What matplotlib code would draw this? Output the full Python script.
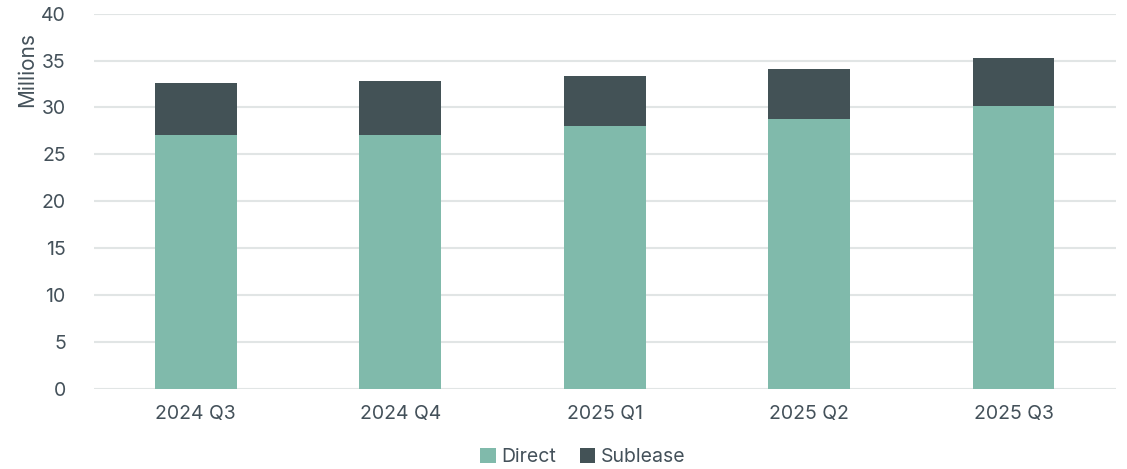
import numpy as np
import matplotlib.pyplot as plt

quarters = ["2024 Q3", "2024 Q4", "2025 Q1", "2025 Q2", "2025 Q3"]
direct = [27.1, 27.1, 28.0, 28.8, 30.15]
sublease = [5.55, 5.7, 5.3, 5.3, 5.1]

C_DIRECT = "#80baab"
C_SUB = "#435256"
C_TEXT = "#44515a"
C_GRID = "#e1e5e5"

plt.rcParams["font.family"] = ["Inter", "DejaVu Sans"]

fig = plt.figure(figsize=(11.27, 4.69), dpi=100)
ax = fig.add_axes([0.083, 0.171, 0.907, 0.8])

x = np.arange(len(quarters))
ax.bar(x, direct, 0.4, color=C_DIRECT, label="Direct", zorder=3)
ax.bar(x, sublease, 0.4, bottom=direct, color=C_SUB, label="Sublease", zorder=3)

ax.set_ylim(0, 40)
ax.set_xlim(-0.5, len(quarters) - 0.5)
ax.set_yticks(range(0, 41, 5))
ax.set_xticks(x)
ax.set_xticklabels(quarters)
ax.grid(axis="y", color=C_GRID, lw=1.5, zorder=0)
for s in ax.spines.values():
    s.set_visible(False)
ax.tick_params(length=0, labelsize=14, colors=C_TEXT)
ax.tick_params(axis="y", pad=20)
ax.tick_params(axis="x", pad=12)
ax.set_ylabel("Millions", fontsize=15, color=C_TEXT)
ax.yaxis.set_label_coords(-0.055, 0.85)

leg = fig.legend(loc="center", bbox_to_anchor=(583 / 1127, 1 - 457 / 469), ncol=2,
                 frameon=False, fontsize=14, handlelength=0.8, handleheight=0.8,
                 handletextpad=0.3, columnspacing=1.2)
for t in leg.get_texts():
    t.set_color(C_TEXT)

fig.savefig("out.png", dpi=100)
